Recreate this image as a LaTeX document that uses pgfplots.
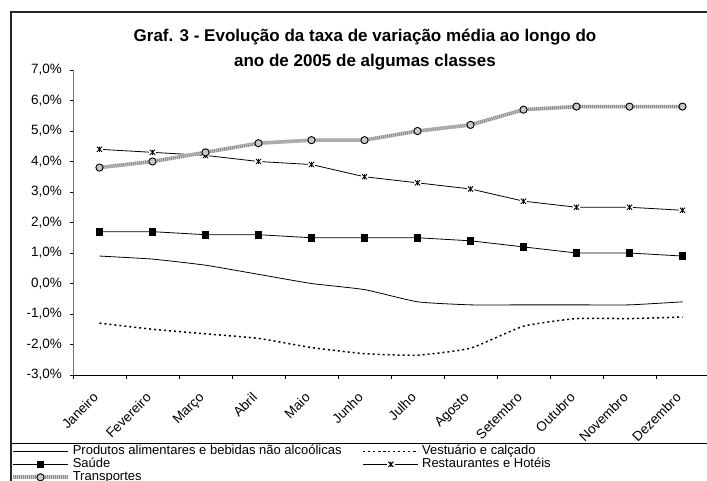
\documentclass[border=0pt]{standalone}
\usepackage{fontspec}
\setmainfont{Liberation Sans}
\usepackage{pgfplots}
\pgfplotsset{compat=1.18}

% Excel-like star marker: x plus a vertical bar on a white patch
\pgfdeclareplotmark{xstar}{%
  \pgfpathrectangle{\pgfqpoint{-1.4\pgfplotmarksize}{-1.4\pgfplotmarksize}}{\pgfqpoint{2.8\pgfplotmarksize}{2.8\pgfplotmarksize}}%
  \pgfsetfillcolor{white}\pgfusepathqfill
  \pgfpathmoveto{\pgfqpoint{-\pgfplotmarksize}{-\pgfplotmarksize}}\pgfpathlineto{\pgfqpoint{\pgfplotmarksize}{\pgfplotmarksize}}%
  \pgfpathmoveto{\pgfqpoint{-\pgfplotmarksize}{\pgfplotmarksize}}\pgfpathlineto{\pgfqpoint{\pgfplotmarksize}{-\pgfplotmarksize}}%
  \pgfpathmoveto{\pgfqpoint{0pt}{-\pgfplotmarksize}}\pgfpathlineto{\pgfqpoint{0pt}{\pgfplotmarksize}}%
  \pgfusepathqstroke}

\definecolor{transplight}{RGB}{205,205,205}
\definecolor{transpdark}{RGB}{140,140,140}
\definecolor{transpfill}{RGB}{200,200,200}

\begin{document}
\begin{tikzpicture}[x=1pt,y=1pt]
\useasboundingbox (0,0) rectangle (707,-481);
\draw[line width=1.2pt, black!85] (11,-495) -- (11,-12) -- (725,-12) -- (725,-495);
\draw[line width=0.9pt] (11,-443) -- (725,-443);
\node[font=\bfseries\fontsize{17}{25}\selectfont, align=center] at (365,-49.5)
  {Graf. 3 - Evolução da taxa de variação média ao longo do\\ano de 2005 de algumas classes};

\begin{axis}[
  at={(73pt,-375pt)}, anchor=south west,
  scale only axis, width=636pt, height=305pt,
  xmin=-0.5, xmax=11.5, ymin=-3, ymax=7,
  axis x line*=bottom, axis y line*=left,
  x axis line style={black,-}, y axis line style={black!55,-},
  tick align=outside,
  xtick={0,...,11},
  xticklabels={Janeiro,Fevereiro,Março,Abril,Maio,Junho,Julho,Agosto,Setembro,Outubro,Novembro,Dezembro},
  major x tick style={draw=none},
  minor xtick={-0.5,0.5,...,11.5},
  minor tick length=4pt, major tick length=3pt,
  ytick={-3,-2,-1,0,1,2,3,4,5,6,7},
  yticklabels={{-3,0\%},{-2,0\%},{-1,0\%},{0,0\%},{1,0\%},{2,0\%},{3,0\%},{4,0\%},{5,0\%},{6,0\%},{7,0\%}},
  ticklabel style={font=\fontsize{13.5}{15}\selectfont},
  yticklabel style={inner sep=2pt, xshift=-6pt},
  xticklabel style={shift={(-7.5pt,-12pt)}, rotate=45, anchor=north east, inner sep=1pt},
  tick style={black},
  legend columns=2,
  legend cell align=left,
  legend style={at={(rel axis cs:-0.0975,-0.229)}, anchor=north west,
    draw=none, fill=none, inner sep=0pt,
    font=\fontsize{13}{15}\selectfont,
    nodes={inner xsep=3pt, inner ysep=0pt, text height=9.5pt, text depth=3pt},
    row sep=0.5pt,
    /tikz/every even column/.append style={column sep=18pt}},
  legend image code/.code={\draw[mark repeat=2,mark phase=2,#1] plot coordinates {(0pt,0pt) (27.5pt,0pt) (55pt,0pt)};},
]
\addplot[black, line width=0.8pt, smooth, tension=0.3] coordinates {
  (0,0.9) (1,0.8) (2,0.6) (3,0.3) (4,0.0) (5,-0.2) (6,-0.6) (7,-0.7) (8,-0.7) (9,-0.7) (10,-0.7) (11,-0.6)};
\addlegendentry{Produtos alimentares e bebidas não alcoólicas}
\addplot[black, line width=1.5pt, dash pattern=on 2pt off 3pt, smooth, tension=0.3] coordinates {
  (0,-1.3) (1,-1.5) (2,-1.65) (3,-1.8) (4,-2.1) (5,-2.3) (6,-2.35) (7,-2.12) (8,-1.4) (9,-1.15) (10,-1.15) (11,-1.1)};
\addlegendentry{Vestuário e calçado}
\addplot[black, line width=0.8pt, mark=square*, mark size=3.3pt, mark options={solid, fill=black}] coordinates {
  (0,1.7) (1,1.7) (2,1.6) (3,1.6) (4,1.5) (5,1.5) (6,1.5) (7,1.4) (8,1.2) (9,1.0) (10,1.0) (11,0.9)};
\addlegendentry{Saúde}
\addplot[black, line width=0.8pt, mark=xstar, mark size=2.6pt, mark options={solid, line width=0.9pt}] coordinates {
  (0,4.4) (1,4.3) (2,4.2) (3,4.0) (4,3.9) (5,3.5) (6,3.3) (7,3.1) (8,2.7) (9,2.5) (10,2.5) (11,2.4)};
\addlegendentry{Restaurantes e Hotéis}
\addplot[transplight, line width=3.6pt,
  postaction={draw=transpdark, line width=3.6pt, dash pattern=on 1pt off 1pt},
  mark=*, mark size=3.6pt, mark options={solid, draw=black, fill=transpfill, line width=0.9pt}] coordinates {
  (0,3.8) (1,4.0) (2,4.3) (3,4.6) (4,4.7) (5,4.7) (6,5.0) (7,5.2) (8,5.7) (9,5.8) (10,5.8) (11,5.8)};
\addlegendentry{Transportes}
\end{axis}
\end{tikzpicture}
\end{document}
